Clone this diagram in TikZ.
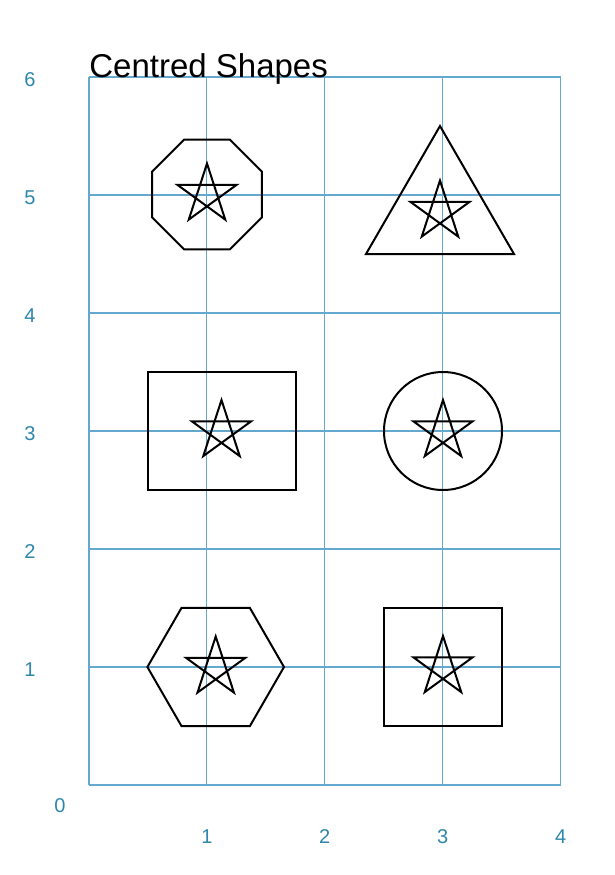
\documentclass[tikz,border=0pt]{standalone}
\usepackage{fontspec}
\setmainfont{Liberation Sans}
\definecolor{gridcol}{RGB}{100,168,206}
\definecolor{labcol}{RGB}{46,134,171}
\begin{document}
\begin{tikzpicture}[x=0.5pt,y=0.5pt,
  gridline/.style={draw=gridcol,line width=0.55pt},
  axlab/.style={text=labcol,font=\fontsize{10pt}{12pt}\selectfont,inner sep=0pt,anchor=center},
  shapeline/.style={draw=black,line width=1pt},
  title/.style={font=\fontsize{16.5pt}{19pt}\selectfont,inner sep=0pt,anchor=base west}]
\useasboundingbox (0,0) rectangle (615,-875);
% grid
\foreach \i in {0,...,4} {\draw[gridline] (89+117.9*\i,-77) -- (89+117.9*\i,-785);}
\foreach \j in {0,...,6} {\draw[gridline] (89,-785+118*\j) -- (560.6,-785+118*\j);}
% axis labels
\foreach \j in {1,...,6} {\node[axlab] (y\j) at (30,-788+118*\j) {\j};}
\node[axlab] (y0) at (60,-806) {0};
\foreach \i in {1,...,4} {\node[axlab] (x\i) at (89+117.9*\i,-837) {\i};}
% title
\node[title] (ttl) at (89,-77) {Centred Shapes};
% shapes
\draw[shapeline,shift={(207,-194.5)}] (22.5:59.5) -- (67.5:59.5) -- (112.5:59.5) -- (157.5:59.5) -- (202.5:59.5) -- (247.5:59.5) -- (292.5:59.5) -- (337.5:59.5) -- cycle;
\draw[shapeline] (440,-126) -- (366,-254) -- (514,-254) -- cycle;
\draw[shapeline] (147.5,-372) rectangle (295.5,-490);
\draw[shapeline] (443,-431) circle (59);
\draw[shapeline,shift={(215.7,-667)}] (0:68.3) -- (60:68.3) -- (120:68.3) -- (180:68.3) -- (240:68.3) -- (300:68.3) -- cycle;
\draw[shapeline] (384,-608) rectangle (502,-726);
% stars
\foreach \cx/\cy in {207/194.5, 440/211.5, 221.5/431, 443/431, 215.7/667.5, 443/667} {
  \draw[shapeline,shift={(\cx,-\cy)}] (90:31) -- (234:31) -- (18:31) -- (162:31) -- (306:31) -- cycle;
}
\end{tikzpicture}
\end{document}
